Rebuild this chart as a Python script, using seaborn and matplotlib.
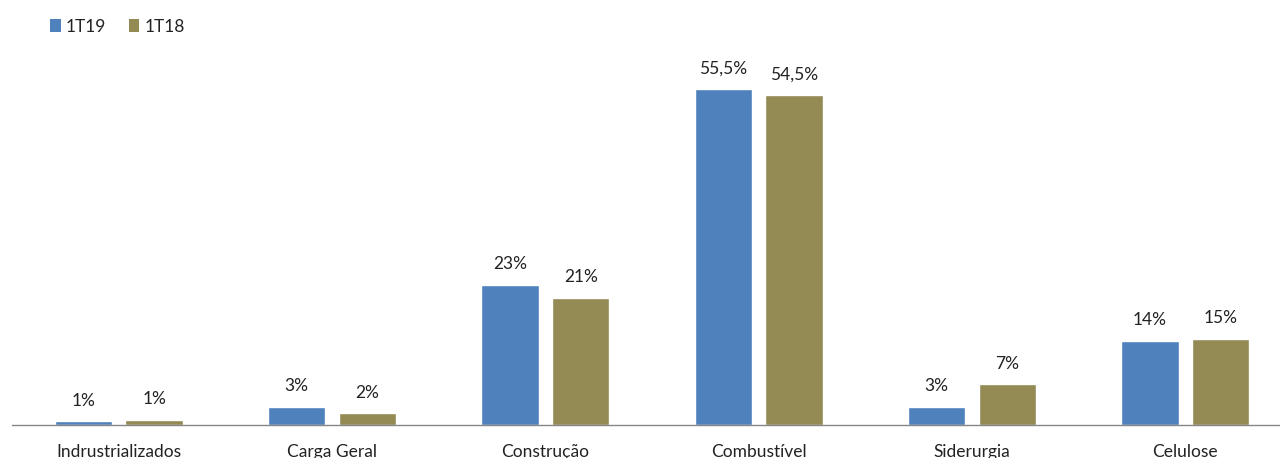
import matplotlib
matplotlib.use("Agg")
import matplotlib.pyplot as plt
from matplotlib.patches import Patch
import seaborn as sns
import pandas as pd

categories = ["Indrustrializados", "Carga Geral", "Construção", "Combustível", "Siderurgia", "Celulose"]
series_names = ["1T19", "1T18"]
values_1t19 = [0.5, 2.9, 23.1, 55.5, 2.95, 13.9]
values_1t18 = [0.75, 1.85, 21.0, 54.5, 6.65, 14.2]
labels_1t19 = ["1%", "3%", "23%", "55,5%", "3%", "14%"]
labels_1t18 = ["1%", "2%", "21%", "54,5%", "7%", "15%"]
colors = ["#4F81BD", "#948A54"]

df = pd.DataFrame({
    "categoria": categories * 2,
    "periodo": [series_names[0]] * len(categories) + [series_names[1]] * len(categories),
    "valor": values_1t19 + values_1t18,
})

sns.set_theme(style="white")
plt.rcParams["font.family"] = ["Lato", "DejaVu Sans"]

fig = plt.figure(figsize=(12.8, 4.58), dpi=100)
ax = fig.add_axes([12 / 1280, 33.5 / 458, 1.0, 362.4 / 458])

sns.barplot(data=df, x="categoria", y="valor", hue="periodo", order=categories,
            hue_order=series_names, palette=colors, width=0.664, gap=0.19,
            errorbar=None, legend=False, ax=ax, saturation=1)

for cont, labs in zip(ax.containers, [labels_1t19, labels_1t18]):
    ax.bar_label(cont, labels=labs, padding=9, fontsize=12.5, color="#222222")

ax.set_xlim(-0.5, 5.5)
ax.set_ylim(0, 60)
ax.set_xlabel("")
ax.set_ylabel("")
ax.set_yticks([])
for s in ["top", "right", "left"]:
    ax.spines[s].set_visible(False)
ax.spines["bottom"].set_color("#868686")
ax.spines["bottom"].set_linewidth(1.0)
ax.tick_params(axis="x", length=0, pad=14, labelsize=12.5, labelcolor="#222222")

handles = [Patch(facecolor=c, edgecolor="none", label=n) for c, n in zip(colors, series_names)]
fig.legend(handles=handles, loc="upper left", bbox_to_anchor=(0.027, 0.993), ncol=2,
           frameon=False, fontsize=12.5, handlelength=0.6, handleheight=0.75,
           handletextpad=0.3, columnspacing=1.3, labelcolor="#222222")

fig.savefig("out.png", dpi=100)
